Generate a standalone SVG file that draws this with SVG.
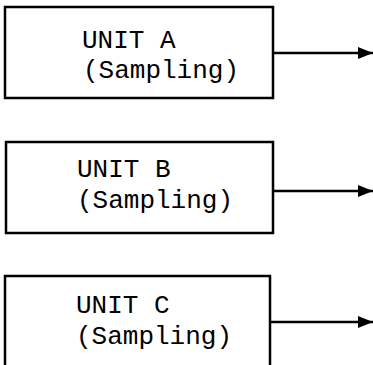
<svg xmlns="http://www.w3.org/2000/svg" width="373" height="365" viewBox="0 0 373 365">
<style>
.box{fill:#fff;stroke:#000;stroke-width:2.5}
.t{font-family:"Liberation Mono","Courier New",monospace;font-size:26px;fill:#000}
.c{stroke:#000;stroke-width:2.5;fill:none}
</style>
<defs>
<marker id="ah" markerUnits="userSpaceOnUse" markerWidth="16" markerHeight="12" refX="15" refY="6" orient="auto">
<path d="M0,0 L15,6 L0,12 Z" fill="#000"/>
</marker>
</defs>
<rect width="373" height="365" fill="#fff"/>
<g id="unitA">
<rect class="box" x="5" y="7" width="268" height="91"/>
<text class="t" x="82" y="48">UNIT A</text>
<text class="t" x="83" y="78">(Sampling)</text>
</g>
<g id="unitB">
<rect class="box" x="6" y="142" width="267" height="91"/>
<text class="t" x="77" y="177">UNIT B</text>
<text class="t" x="77" y="208">(Sampling)</text>
</g>
<g id="unitC">
<rect class="box" x="5" y="276" width="265" height="95"/>
<text class="t" x="76" y="313">UNIT C</text>
<text class="t" x="76" y="344">(Sampling)</text>
</g>
<g id="connectors">
<line class="c" x1="273" y1="53" x2="373" y2="53" marker-end="url(#ah)"/>
<line class="c" x1="273" y1="191" x2="373" y2="191" marker-end="url(#ah)"/>
<line class="c" x1="270" y1="322" x2="373" y2="322" marker-end="url(#ah)"/>
</g>
</svg>
